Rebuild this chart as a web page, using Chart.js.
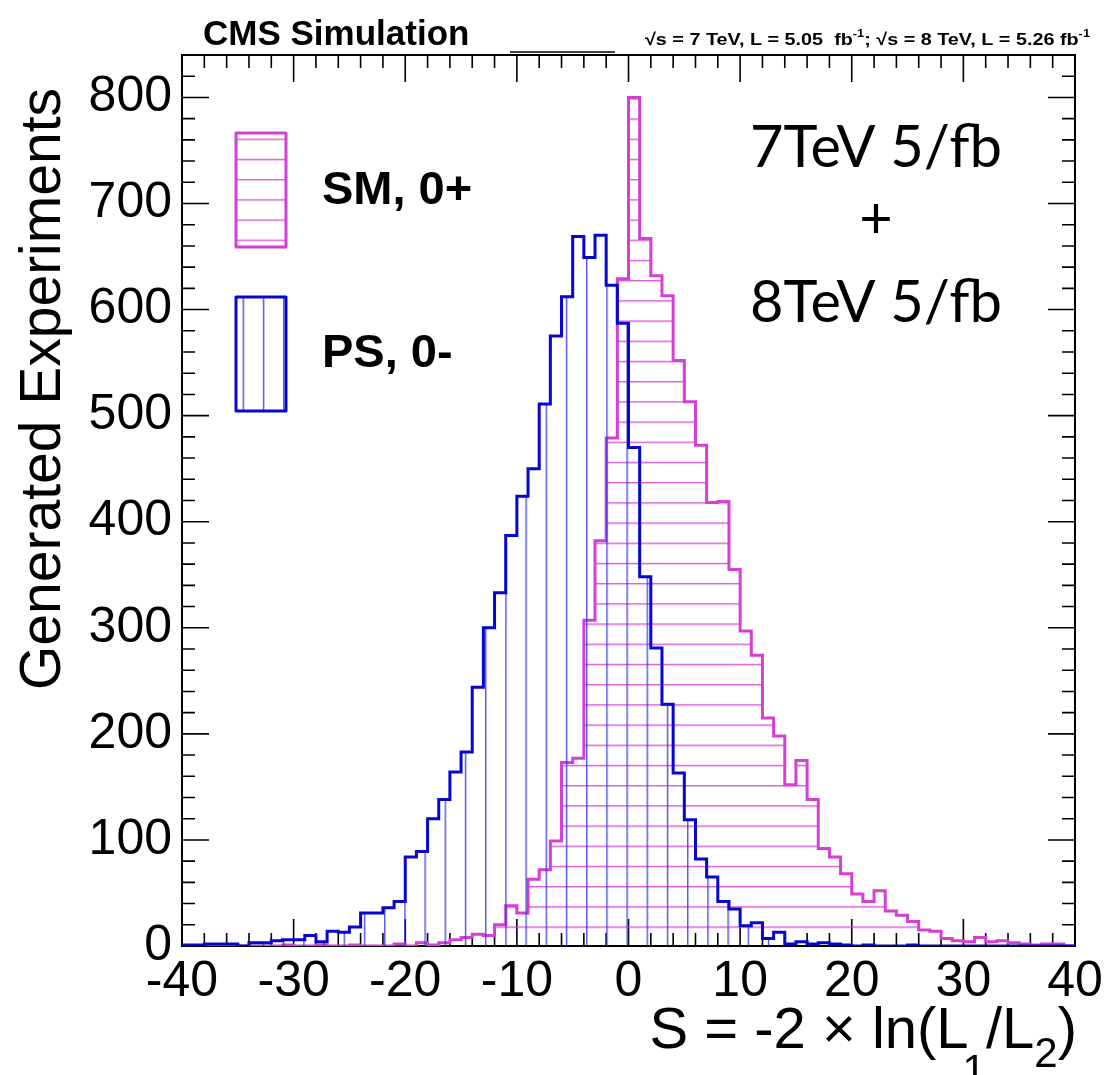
<!DOCTYPE html>
<html>
<head>
<meta charset="utf-8">
<script src="https://cdn.jsdelivr.net/npm/chart.js@4.4.0/dist/chart.umd.min.js"></script>
<style>
  html, body { margin: 0; padding: 0; background: #fff; }
  #wrap { width: 1112px; height: 1075px; }
</style>
</head>
<body>
<div id="wrap"><canvas id="hist" width="1112" height="1075"></canvas></div>
<script>
'use strict';

// bin edges of S, 80 bins of width 1
var BIN_EDGES = [
  -40, -39, -38, -37, -36, -35, -34, -33, -32, -31,
  -30, -29, -28, -27, -26, -25, -24, -23, -22, -21,
  -20, -19, -18, -17, -16, -15, -14, -13, -12, -11,
  -10, -9, -8, -7, -6, -5, -4, -3, -2, -1,
  0, 1, 2, 3, 4, 5, 6, 7, 8, 9,
  10, 11, 12, 13, 14, 15, 16, 17, 18, 19,
  20, 21, 22, 23, 24, 25, 26, 27, 28, 29,
  30, 31, 32, 33, 34, 35, 36, 37, 38, 39,
  40
];

// SM, 0+ (magenta)
var SM_COUNTS = [
  0, 0, 1, 0, 0, 0, 0, 0, 0, 1,
  0, 0, 1, 0, 0, 1, 0, 0, 0, 2,
  0, 3, 1, 3, 6, 8, 11, 10, 20, 38,
  31, 63, 72, 99, 173, 177, 307, 382, 479, 629,
  800, 667, 632, 613, 552, 513, 472, 418, 419, 355,
  297, 274, 215, 198, 152, 175, 138, 92, 84, 68,
  49, 42, 52, 33, 29, 23, 15, 14, 7, 5,
  4, 8, 4, 5, 3, 2, 1, 2, 2, 0
];

// PS, 0- (blue)
var PS_COUNTS = [
  1, 1, 2, 2, 2, 0, 3, 3, 5, 6,
  6, 10, 4, 14, 13, 18, 31, 31, 36, 42,
  84, 89, 120, 138, 164, 183, 244, 300, 333, 387,
  424, 450, 511, 575, 612, 669, 649, 670, 623, 587,
  470, 348, 281, 228, 163, 119, 82, 65, 42, 35,
  19, 22, 7, 13, 2, 4, 2, 3, 2, 1,
  0, 1, 0, 0, 0, 1, 0, 0, 0, 0,
  0, 0, 0, 0, 0, 0, 0, 0, 0, 0
];

var X_TICKS = [-40, -30, -20, -10, 0, 10, 20, 30, 40];
var Y_TICKS = [0, 100, 200, 300, 400, 500, 600, 700, 800];
var Y_MAX = 840;

var SERIES_NAMES = ['SM, 0+', 'PS, 0-'];
var X_TITLE = ['S = -2 \u00d7 ln(L', '1', '/L', '2', ')'];
var Y_TITLE = 'Generated Experiments';
var TOP_LEFT = 'CMS Simulation';
var LUMI = ['\u221As = 7 TeV, L = 5.05  fb', '-1', '; \u221As = 8 TeV, L = 5.26 fb', '-1'];
var NOTE = ['7TeV 5/fb', '+', '8TeV 5/fb'];

var MAGENTA = '#d43fd4';
var BLUE = '#0606cf';
var FONT = "'Liberation Sans', Arial, Helvetica, sans-serif";
var FONT_NOTE = "Lato, 'Noto Sans', sans-serif";

var canvas = document.getElementById('hist');
var ctx = canvas.getContext('2d');

/* hatch patterns, period ~20.2 px like the ROOT fill styles */
function hatch(color, vertical) {
  var c = document.createElement('canvas');
  c.width = 20; c.height = 20;
  var g = c.getContext('2d');
  g.strokeStyle = color;
  g.lineWidth = 1.4;
  g.beginPath();
  if (vertical) { g.moveTo(0.7, 0); g.lineTo(0.7, 20); }
  else { g.moveTo(0, 0.7); g.lineTo(20, 0.7); }
  g.stroke();
  var p = ctx.createPattern(c, 'repeat');
  if (p.setTransform) p.setTransform(new DOMMatrix([1.01, 0, 0, 1.01, 0.2, 17.4]));
  return p;
}

var HATCH_SM = hatch('rgba(214,70,214,0.9)', false);
var HATCH_PS = hatch('rgba(50,50,225,0.85)', true);

function histPoints(counts) {
  var pts = [{ x: BIN_EDGES[0], y: 0 }];
  for (var i = 0; i < counts.length; i++) pts.push({ x: BIN_EDGES[i], y: counts[i] });
  pts.push({ x: BIN_EDGES[BIN_EDGES.length - 1], y: 0 });
  return pts;
}

/* frame with inward ticks on all four sides, under the histograms */
var framePlugin = {
  id: 'frame',
  beforeDatasetsDraw: function(chart) {
    var a = chart.chartArea;
    var xs = chart.scales.x, ys = chart.scales.y;
    var c = chart.ctx, v, p, len;
    c.save();
    c.strokeStyle = '#000';
    c.lineWidth = 2;
    c.strokeRect(a.left, a.top, a.right - a.left, a.bottom - a.top);
    c.lineWidth = 1.5;
    c.beginPath();
    c.moveTo(510, a.top - 3); c.lineTo(615, a.top - 3);
    c.stroke();
    c.lineWidth = 1.6;
    c.beginPath();
    for (v = xs.min; v <= xs.max; v += 2) {
      p = xs.getPixelForValue(v);
      len = (v % 10 === 0) ? 27 : 13;
      c.moveTo(p, a.bottom); c.lineTo(p, a.bottom - len);
      c.moveTo(p, a.top); c.lineTo(p, a.top + len);
    }
    for (v = 0; v <= ys.max; v += 20) {
      p = ys.getPixelForValue(v);
      len = (v % 100 === 0) ? 27 : 13;
      c.moveTo(a.left, p); c.lineTo(a.left + len, p);
      c.moveTo(a.right, p); c.lineTo(a.right - len, p);
    }
    c.stroke();
    c.restore();
  }
};

/* titles, legend and annotation texts */
var textPlugin = {
  id: 'texts',
  afterDraw: function(chart) {
    var c = chart.ctx, i, w;
    c.save();
    c.fillStyle = '#000';
    c.textBaseline = 'alphabetic';

    // y title
    c.save();
    c.font = '57px ' + FONT;
    c.translate(60, 88);
    c.rotate(-Math.PI / 2);
    c.textAlign = 'right';
    c.fillText(Y_TITLE, 0, 0);
    c.restore();

    // x title with subscripts, right aligned at the frame end
    var mainF = '58px ' + FONT, subF = '42px ' + FONT;
    var subDy = [0, 36, 0, 19, 0];
    var widths = [];
    var total = 0;
    for (i = 0; i < X_TITLE.length; i++) {
      c.font = (i % 2) ? subF : mainF;
      w = c.measureText(X_TITLE[i]).width;
      widths.push(w); total += w;
    }
    var x = 1077 - total + 6;
    for (i = 0; i < X_TITLE.length; i++) {
      c.font = (i % 2) ? subF : mainF;
      c.fillText(X_TITLE[i], i === 1 ? x - 6 : x, 1048 + subDy[i]);
      x += (i === 1) ? widths[i] - 6 : widths[i];
    }

    // CMS Simulation
    c.font = 'bold 35px ' + FONT;
    c.fillText(TOP_LEFT, 203, 45);

    // luminosity line, squeezed to its width
    var lf = 'bold 17px ' + FONT, sf = 'bold 11px ' + FONT;
    total = 0; widths = [];
    for (i = 0; i < LUMI.length; i++) {
      c.font = (i % 2) ? sf : lf;
      w = c.measureText(LUMI[i]).width;
      widths.push(w); total += w;
    }
    c.save();
    c.translate(645, 45);
    c.scale(445 / total, 1);
    x = 0;
    for (i = 0; i < LUMI.length; i++) {
      c.font = (i % 2) ? sf : lf;
      c.fillText(LUMI[i], x, (i % 2) ? -8 : 0);
      x += widths[i];
    }
    c.restore();

    // legend boxes
    c.lineWidth = 3;
    c.lineJoin = 'round';
    c.fillStyle = HATCH_SM;
    c.fillRect(236, 133, 50, 114);
    c.strokeStyle = MAGENTA;
    c.strokeRect(236, 133, 50, 114);
    c.fillStyle = HATCH_PS;
    c.fillRect(236, 297, 50, 114);
    c.strokeStyle = BLUE;
    c.strokeRect(236, 297, 50, 114);

    c.fillStyle = '#000';
    c.font = 'bold 47px ' + FONT;
    c.fillText(SERIES_NAMES[0], 322, 204);
    c.fillText(SERIES_NAMES[1], 322, 367);

    // energy / luminosity note
    c.font = '66px ' + FONT_NOTE;
    var size = 66 * 252 / c.measureText(NOTE[0]).width;
    c.font = size.toFixed(1) + 'px ' + FONT_NOTE;
    c.textAlign = 'center';
    c.fillText(NOTE[0], 876, 167);
    c.fillText(NOTE[1], 876, 238);
    c.fillText(NOTE[2], 876, 322);
    c.restore();
  }
};

new Chart(canvas, {
  type: 'line',
  data: {
    datasets: [
      {
        label: SERIES_NAMES[1],
        data: histPoints(PS_COUNTS),
        stepped: 'before',
        fill: 'origin',
        backgroundColor: HATCH_PS,
        borderColor: BLUE,
        borderWidth: 3,
        pointRadius: 0,
        order: 0
      },
      {
        label: SERIES_NAMES[0],
        data: histPoints(SM_COUNTS),
        stepped: 'before',
        fill: 'origin',
        backgroundColor: HATCH_SM,
        borderColor: MAGENTA,
        borderWidth: 3,
        pointRadius: 0,
        order: 1
      }
    ]
  },
  options: {
    responsive: false,
    animation: false,
    devicePixelRatio: 1,
    layout: { padding: { top: 55, right: 37, left: 0, bottom: 0 } },
    plugins: {
      legend: { display: false },
      tooltip: { enabled: false }
    },
    scales: {
      x: {
        type: 'linear',
        min: -40,
        max: 40,
        grid: { display: false, drawTicks: false },
        border: { display: false },
        afterBuildTicks: function(s) { s.ticks = X_TICKS.map(function(v) { return { value: v }; }); },
        afterFit: function(s) { s.height = 129; },
        ticks: {
          color: '#000',
          font: { family: FONT, size: 50 },
          padding: 6,
          maxRotation: 0,
          autoSkip: false,
          callback: function(v) { return String(v); }
        }
      },
      y: {
        type: 'linear',
        min: 0,
        max: Y_MAX,
        grid: { display: false, drawTicks: false },
        border: { display: false },
        afterBuildTicks: function(s) { s.ticks = Y_TICKS.map(function(v) { return { value: v }; }); },
        afterFit: function(s) { s.width = 182; },
        ticks: {
          color: '#000',
          font: { family: FONT, size: 50 },
          padding: 10,
          callback: function(v) { return String(v); }
        }
      }
    }
  },
  plugins: [framePlugin, textPlugin]
});
</script>
</body>
</html>
